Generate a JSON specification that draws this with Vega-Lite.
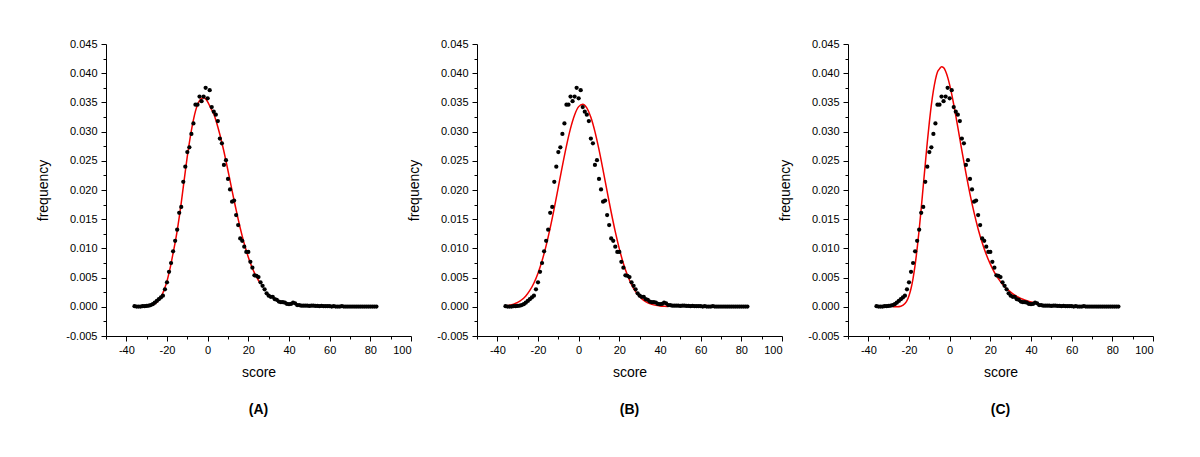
{
 "$schema": "https://vega.github.io/schema/vega-lite/v6.json",
 "autosize": {"type": "pad"},
 "padding": {"left": 36, "top": 38, "right": 5, "bottom": 5},
 "background": "white",
 "spacing": 66,
 "bounds": "flush",
 "config": {
  "view": {"stroke": null},
  "axis": {"grid": false, "domainColor": "#000", "tickColor": "#000", "labelColor": "#000", "titleColor": "#000", "labelFont": "Liberation Sans", "titleFont": "Liberation Sans", "labelFontSize": 11, "titleFontSize": 14, "titleFontWeight": "normal", "domainWidth": 1, "tickWidth": 1}
 },
 "datasets": {
  "dots": [
   {"x":-36,"y":0.0001},{"x":-35,"y":0.00005},{"x":-34,"y":0.00005},{"x":-33,"y":0.00005},{"x":-32,"y":0.0001},{"x":-31,"y":0.0001},{"x":-30,"y":0.00015},{"x":-29,"y":0.0002},{"x":-28,"y":0.0003},{"x":-27,"y":0.00045},{"x":-26,"y":0.0007},{"x":-25,"y":0.001},{"x":-24,"y":0.0013},{"x":-23,"y":0.0016},{"x":-22,"y":0.0019},{"x":-21,"y":0.003},{"x":-20,"y":0.0042},{"x":-19,"y":0.006},{"x":-18,"y":0.0075},{"x":-17,"y":0.0095},{"x":-16,"y":0.0113},{"x":-15,"y":0.0132},{"x":-14,"y":0.0161},{"x":-13,"y":0.0171},{"x":-12,"y":0.0214},{"x":-11,"y":0.024},{"x":-10,"y":0.0265},{"x":-9,"y":0.0273},{"x":-8,"y":0.0296},{"x":-7,"y":0.0314},{"x":-6,"y":0.0346},{"x":-5,"y":0.0346},{"x":-4,"y":0.036},{"x":-3,"y":0.0352},{"x":-2,"y":0.036},{"x":-1,"y":0.0375},{"x":0,"y":0.0357},{"x":1,"y":0.0371},{"x":2,"y":0.0342},{"x":3,"y":0.0334},{"x":4,"y":0.0329},{"x":5,"y":0.0318},{"x":6,"y":0.0288},{"x":7,"y":0.028},{"x":8,"y":0.0243},{"x":9,"y":0.0251},{"x":10,"y":0.0219},{"x":11,"y":0.0201},{"x":12,"y":0.018},{"x":13,"y":0.0182},{"x":14,"y":0.0157},{"x":15,"y":0.014},{"x":16,"y":0.0117},{"x":17,"y":0.0113},{"x":18,"y":0.0103},{"x":19,"y":0.0094},{"x":20,"y":0.0094},{"x":21,"y":0.0077},{"x":22,"y":0.0067},{"x":23,"y":0.0054},{"x":24,"y":0.0053},{"x":25,"y":0.0051},{"x":26,"y":0.0042},{"x":27,"y":0.0036},{"x":28,"y":0.003},{"x":29,"y":0.0023},{"x":30,"y":0.0019},{"x":31,"y":0.0017},{"x":32,"y":0.0017},{"x":33,"y":0.0013},{"x":34,"y":0.0012},{"x":35,"y":0.0009},{"x":36,"y":0.0008},{"x":37,"y":0.0008},{"x":38,"y":0.0007},{"x":39,"y":0.0005},{"x":40,"y":0.00045},{"x":41,"y":0.0005},{"x":42,"y":0.0007},{"x":43,"y":0.0006},{"x":44,"y":0.0003},{"x":45,"y":0.0003},{"x":46,"y":0.0002},{"x":47,"y":0.0002},{"x":48,"y":0.0002},{"x":49,"y":0.0002},{"x":50,"y":0.00015},{"x":51,"y":0.0002},{"x":52,"y":0.0002},{"x":53,"y":0.00015},{"x":54,"y":0.00015},{"x":55,"y":0.0001},{"x":56,"y":0.00015},{"x":57,"y":0.0001},{"x":58,"y":0.0001},{"x":59,"y":0.0001},{"x":60,"y":0.0001},{"x":61,"y":0.00005},{"x":62,"y":0.0001},{"x":63,"y":0.00005},{"x":64,"y":0.00005},{"x":65,"y":0.00005},{"x":66,"y":0.0001},{"x":67,"y":0.00005},{"x":68,"y":0.00005},{"x":69,"y":0.00005},{"x":70,"y":0.00005},{"x":71,"y":0.00005},{"x":72,"y":0.00005},{"x":73,"y":0.00005},{"x":74,"y":0.00005},{"x":75,"y":0.00005},{"x":76,"y":0.00005},{"x":77,"y":0.00005},{"x":78,"y":0.00005},{"x":79,"y":0.00005},{"x":80,"y":0.00005},{"x":81,"y":0.00005},{"x":82,"y":0.00005},{"x":83,"y":0.00005}
  ],
  "fits": [
   {"panel":"A","x":-26,"y":0.0005},{"panel":"A","x":-25,"y":0.0008},{"panel":"A","x":-24,"y":0.0012},{"panel":"A","x":-23,"y":0.0017},{"panel":"A","x":-22,"y":0.0024},{"panel":"A","x":-21,"y":0.0033},{"panel":"A","x":-20,"y":0.0044},{"panel":"A","x":-19,"y":0.0058},{"panel":"A","x":-18,"y":0.0074},{"panel":"A","x":-17,"y":0.0092},{"panel":"A","x":-16,"y":0.011},{"panel":"A","x":-15,"y":0.013},{"panel":"A","x":-14,"y":0.0153},{"panel":"A","x":-13,"y":0.0178},{"panel":"A","x":-12,"y":0.0205},{"panel":"A","x":-11,"y":0.0232},{"panel":"A","x":-10,"y":0.0258},{"panel":"A","x":-9,"y":0.0281},{"panel":"A","x":-8,"y":0.0302},{"panel":"A","x":-7,"y":0.032},{"panel":"A","x":-6,"y":0.0335},{"panel":"A","x":-5,"y":0.0346},{"panel":"A","x":-4,"y":0.0353},{"panel":"A","x":-3,"y":0.0357},{"panel":"A","x":-2,"y":0.0358},{"panel":"A","x":-1,"y":0.0356},{"panel":"A","x":0,"y":0.0351},{"panel":"A","x":1,"y":0.0344},{"panel":"A","x":2,"y":0.0337},{"panel":"A","x":3,"y":0.033},{"panel":"A","x":4,"y":0.032},{"panel":"A","x":5,"y":0.0308},{"panel":"A","x":6,"y":0.0295},{"panel":"A","x":7,"y":0.0281},{"panel":"A","x":8,"y":0.0266},{"panel":"A","x":9,"y":0.025},{"panel":"A","x":10,"y":0.0233},{"panel":"A","x":11,"y":0.0216},{"panel":"A","x":12,"y":0.0199},{"panel":"A","x":13,"y":0.0182},{"panel":"A","x":14,"y":0.0166},{"panel":"A","x":15,"y":0.015},{"panel":"A","x":16,"y":0.0135},{"panel":"A","x":17,"y":0.0121},{"panel":"A","x":18,"y":0.0108},{"panel":"A","x":19,"y":0.0096},{"panel":"A","x":20,"y":0.0085},{"panel":"A","x":21,"y":0.0075},{"panel":"A","x":22,"y":0.0066},{"panel":"A","x":23,"y":0.0058},{"panel":"A","x":24,"y":0.0051},{"panel":"A","x":25,"y":0.0045},{"panel":"A","x":26,"y":0.004},
   {"panel":"B","x":-35,"y":0.00021},{"panel":"B","x":-34,"y":0.000273},{"panel":"B","x":-32,"y":0.000462},{"panel":"B","x":-30,"y":0.000759},{"panel":"B","x":-28,"y":0.001209},{"panel":"B","x":-26,"y":0.001868},{"panel":"B","x":-24,"y":0.002804},{"panel":"B","x":-22,"y":0.004078},{"panel":"B","x":-20,"y":0.005753},{"panel":"B","x":-18,"y":0.007884},{"panel":"B","x":-16,"y":0.010476},{"panel":"B","x":-14,"y":0.013505},{"panel":"B","x":-12,"y":0.016892},{"panel":"B","x":-10,"y":0.020501},{"panel":"B","x":-8,"y":0.024134},{"panel":"B","x":-6,"y":0.027569},{"panel":"B","x":-4,"y":0.030557},{"panel":"B","x":-2,"y":0.032857},{"panel":"B","x":0,"y":0.034277},{"panel":"B","x":2,"y":0.034695},{"panel":"B","x":4,"y":0.034072},{"panel":"B","x":6,"y":0.032462},{"panel":"B","x":8,"y":0.030005},{"panel":"B","x":10,"y":0.02691},{"panel":"B","x":12,"y":0.023416},{"panel":"B","x":14,"y":0.019769},{"panel":"B","x":16,"y":0.016191},{"panel":"B","x":18,"y":0.012867},{"panel":"B","x":20,"y":0.009917},{"panel":"B","x":22,"y":0.007419},{"panel":"B","x":24,"y":0.005385},{"panel":"B","x":26,"y":0.003793},{"panel":"B","x":28,"y":0.002589},{"panel":"B","x":30,"y":0.001718},{"panel":"B","x":32,"y":0.001103},{"panel":"B","x":34,"y":0.000688},{"panel":"B","x":36,"y":0.000417},{"panel":"B","x":38,"y":0.000245},{"panel":"B","x":40,"y":0.000139},{"panel":"B","x":42,"y":0.000077},{"panel":"B","x":44,"y":0.000041},
   {"panel":"C","x":-28,"y":0.000001},{"panel":"C","x":-26,"y":0.000014},{"panel":"C","x":-24,"y":0.00011},{"panel":"C","x":-22,"y":0.000547},{"panel":"C","x":-21,"y":0.001058},{"panel":"C","x":-20,"y":0.0019},{"panel":"C","x":-19,"y":0.003134},{"panel":"C","x":-18,"y":0.004884},{"panel":"C","x":-17,"y":0.00714},{"panel":"C","x":-16,"y":0.00996},{"panel":"C","x":-15,"y":0.0132},{"panel":"C","x":-14,"y":0.01682},{"panel":"C","x":-13,"y":0.02064},{"panel":"C","x":-12,"y":0.02444},{"panel":"C","x":-11,"y":0.02817},{"panel":"C","x":-10,"y":0.03157},{"panel":"C","x":-9,"y":0.03457},{"panel":"C","x":-8,"y":0.037},{"panel":"C","x":-7,"y":0.03891},{"panel":"C","x":-6,"y":0.04021},{"panel":"C","x":-5,"y":0.04074},{"panel":"C","x":-4,"y":0.04109},{"panel":"C","x":-3,"y":0.04095},{"panel":"C","x":-2,"y":0.04034},{"panel":"C","x":-1,"y":0.03933},{"panel":"C","x":0,"y":0.03799},{"panel":"C","x":1,"y":0.03642},{"panel":"C","x":2,"y":0.03464},{"panel":"C","x":3,"y":0.03273},{"panel":"C","x":4,"y":0.03076},{"panel":"C","x":5,"y":0.02876},{"panel":"C","x":6,"y":0.02674},{"panel":"C","x":8,"y":0.02288},{"panel":"C","x":10,"y":0.0193},{"panel":"C","x":12,"y":0.01612},{"panel":"C","x":14,"y":0.01333},{"panel":"C","x":16,"y":0.01096},{"panel":"C","x":18,"y":0.00895},{"panel":"C","x":20,"y":0.0073},{"panel":"C","x":22,"y":0.00591},{"panel":"C","x":24,"y":0.00478},{"panel":"C","x":26,"y":0.00386},{"panel":"C","x":28,"y":0.00311},{"panel":"C","x":30,"y":0.0025},{"panel":"C","x":32,"y":0.00201},{"panel":"C","x":34,"y":0.00161},{"panel":"C","x":36,"y":0.00129},{"panel":"C","x":38,"y":0.00104},{"panel":"C","x":40,"y":0.00083},{"panel":"C","x":42,"y":0.00067},{"panel":"C","x":44,"y":0.00053}
  ]
 },
 "hconcat": [
  {
   "width": 305, "height": 292,
   "title": {"text": "(A)", "orient": "bottom", "frame": "group", "offset": 24, "font": "Liberation Sans", "fontSize": 14, "fontWeight": "bold", "color": "#000"},
   "encoding": {
    "x": {"field": "x", "type": "quantitative", "scale": {"domain": [-50, 100], "nice": false, "zero": false},
     "axis": {"title": "score", "values": [-50,-40,-30,-20,-10,0,10,20,30,40,50,60,70,80,90,100], "labelExpr": "datum.value % 20 == 0 ? replace(format(datum.value, 'd'), '\u2212', '-') : ''", "tickSize": {"condition": {"test": "datum.value % 20 == 0", "value": 5}, "value": 3}, "labelPadding": 3, "titlePadding": 10}},
    "y": {"field": "y", "type": "quantitative", "scale": {"domain": [-0.005, 0.045], "nice": false, "zero": false},
     "axis": {"title": "frequency", "values": [-0.005,-0.0025,0,0.0025,0.005,0.0075,0.01,0.0125,0.015,0.0175,0.02,0.0225,0.025,0.0275,0.03,0.0325,0.035,0.0375,0.04,0.0425,0.045], "labelExpr": "round(datum.value*400) % 2 == 0 ? replace(format(datum.value, '.3f'), '\u2212', '-') : ''", "tickSize": {"condition": {"test": "round(datum.value*400) % 2 == 0", "value": 5}, "value": 3}, "labelPadding": 4, "titlePadding": 15}}
   },
   "layer": [
    {"data": {"name": "fits"}, "transform": [{"filter": "datum.panel == 'A'"}], "mark": {"type": "line", "color": "#f00000", "strokeWidth": 1.5, "interpolate": "monotone"}},
    {"data": {"name": "dots"}, "mark": {"type": "circle", "size": 18, "color": "#000", "opacity": 1}}
   ]
  },
  {
   "width": 305, "height": 292,
   "title": {"text": "(B)", "orient": "bottom", "frame": "group", "offset": 24, "font": "Liberation Sans", "fontSize": 14, "fontWeight": "bold", "color": "#000"},
   "encoding": {
    "x": {"field": "x", "type": "quantitative", "scale": {"domain": [-50, 100], "nice": false, "zero": false},
     "axis": {"title": "score", "values": [-50,-40,-30,-20,-10,0,10,20,30,40,50,60,70,80,90,100], "labelExpr": "datum.value % 20 == 0 ? replace(format(datum.value, 'd'), '\u2212', '-') : ''", "tickSize": {"condition": {"test": "datum.value % 20 == 0", "value": 5}, "value": 3}, "labelPadding": 3, "titlePadding": 10}},
    "y": {"field": "y", "type": "quantitative", "scale": {"domain": [-0.005, 0.045], "nice": false, "zero": false},
     "axis": {"title": "frequency", "values": [-0.005,-0.0025,0,0.0025,0.005,0.0075,0.01,0.0125,0.015,0.0175,0.02,0.0225,0.025,0.0275,0.03,0.0325,0.035,0.0375,0.04,0.0425,0.045], "labelExpr": "round(datum.value*400) % 2 == 0 ? replace(format(datum.value, '.3f'), '\u2212', '-') : ''", "tickSize": {"condition": {"test": "round(datum.value*400) % 2 == 0", "value": 5}, "value": 3}, "labelPadding": 4, "titlePadding": 15}}
   },
   "layer": [
    {"data": {"name": "fits"}, "transform": [{"filter": "datum.panel == 'B'"}], "mark": {"type": "line", "color": "#f00000", "strokeWidth": 1.5, "interpolate": "monotone"}},
    {"data": {"name": "dots"}, "mark": {"type": "circle", "size": 18, "color": "#000", "opacity": 1}}
   ]
  },
  {
   "width": 305, "height": 292,
   "title": {"text": "(C)", "orient": "bottom", "frame": "group", "offset": 24, "font": "Liberation Sans", "fontSize": 14, "fontWeight": "bold", "color": "#000"},
   "encoding": {
    "x": {"field": "x", "type": "quantitative", "scale": {"domain": [-50, 100], "nice": false, "zero": false},
     "axis": {"title": "score", "values": [-50,-40,-30,-20,-10,0,10,20,30,40,50,60,70,80,90,100], "labelExpr": "datum.value % 20 == 0 ? replace(format(datum.value, 'd'), '\u2212', '-') : ''", "tickSize": {"condition": {"test": "datum.value % 20 == 0", "value": 5}, "value": 3}, "labelPadding": 3, "titlePadding": 10}},
    "y": {"field": "y", "type": "quantitative", "scale": {"domain": [-0.005, 0.045], "nice": false, "zero": false},
     "axis": {"title": "frequency", "values": [-0.005,-0.0025,0,0.0025,0.005,0.0075,0.01,0.0125,0.015,0.0175,0.02,0.0225,0.025,0.0275,0.03,0.0325,0.035,0.0375,0.04,0.0425,0.045], "labelExpr": "round(datum.value*400) % 2 == 0 ? replace(format(datum.value, '.3f'), '\u2212', '-') : ''", "tickSize": {"condition": {"test": "round(datum.value*400) % 2 == 0", "value": 5}, "value": 3}, "labelPadding": 4, "titlePadding": 15}}
   },
   "layer": [
    {"data": {"name": "fits"}, "transform": [{"filter": "datum.panel == 'C'"}], "mark": {"type": "line", "color": "#f00000", "strokeWidth": 1.5, "interpolate": "monotone"}},
    {"data": {"name": "dots"}, "mark": {"type": "circle", "size": 18, "color": "#000", "opacity": 1}}
   ]
  }
 ]
}
